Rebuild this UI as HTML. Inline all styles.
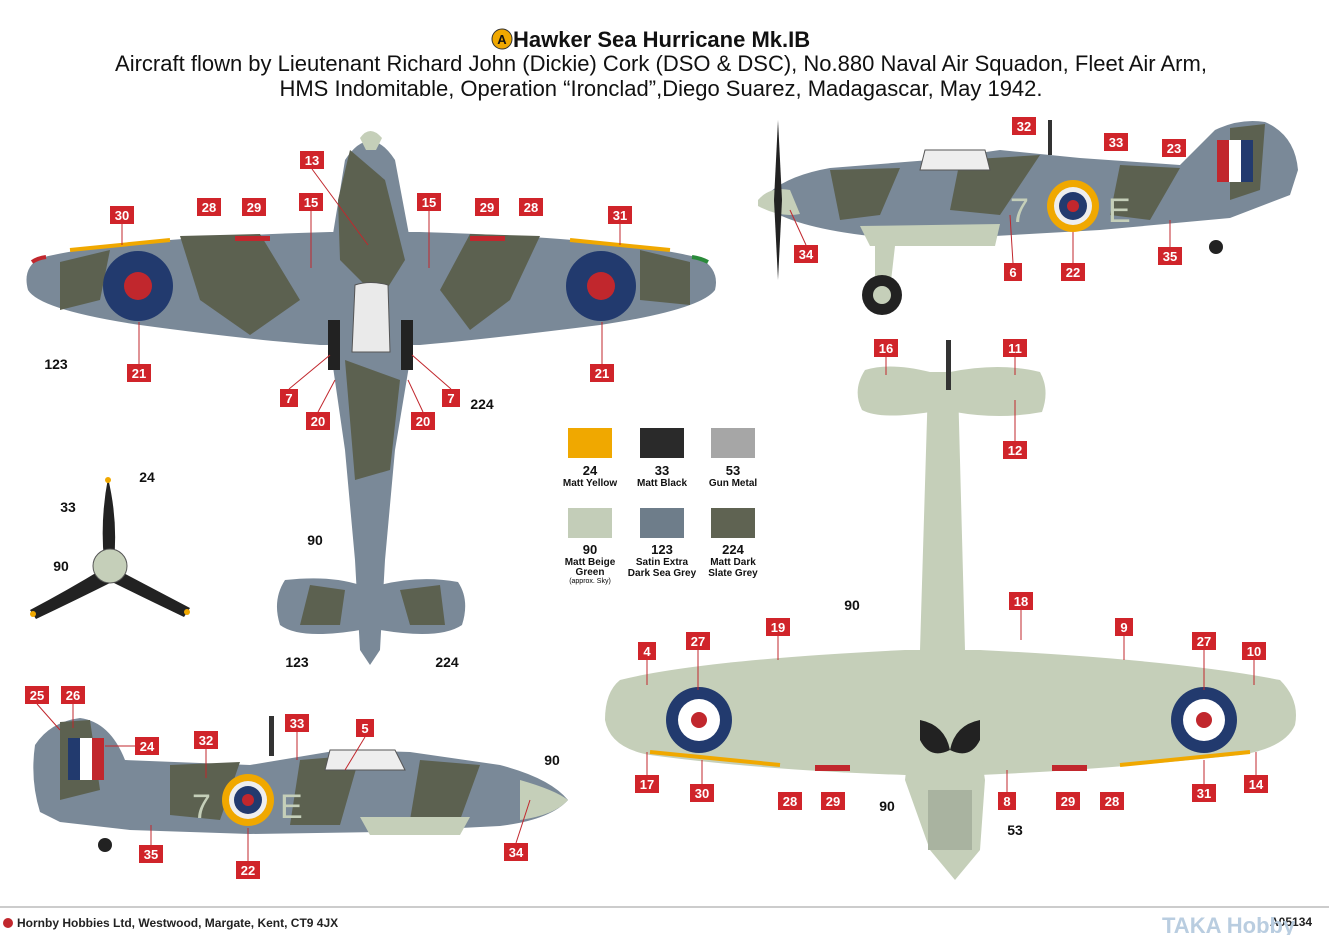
<!DOCTYPE html>
<html><head><meta charset="utf-8"><style>
html,body{margin:0;padding:0;background:#fff;width:1329px;height:935px;overflow:hidden}
svg{display:block}
text{font-family:"Liberation Sans",Arial,sans-serif}
.t{font-size:22px;fill:#111}
.r{fill:#d0242a}
.rl{font-size:13px;font-weight:bold;fill:#fff;text-anchor:middle}
.bl{font-size:14px;font-weight:bold;fill:#111;text-anchor:middle}
.sw{font-size:13px;font-weight:bold;fill:#111;text-anchor:middle}
.ss{font-size:10px;font-weight:bold;fill:#111;text-anchor:middle}
.g{fill:#7a8998}.d{fill:#5c6150}.u{fill:#c5cfb9}
.ll{stroke:#c1272d;stroke-width:1;fill:none}
</style></head><body>
<svg width="1329" height="935" viewBox="0 0 1329 935" xmlns="http://www.w3.org/2000/svg">
<circle cx="502" cy="39" r="10" fill="#f0a800" stroke="#333" stroke-width="1"/>
<text x="502" y="44" font-size="13" font-weight="bold" text-anchor="middle" fill="#111">A</text>
<text x="513" y="47" font-size="22" font-weight="bold" fill="#111">Hawker Sea Hurricane Mk.IB</text>
<text x="661" y="71" class="t" text-anchor="middle">Aircraft flown by Lieutenant Richard John (Dickie) Cork (DSO &amp; DSC), No.880 Naval Air Squadon, Fleet Air Arm,</text>
<text x="661" y="96" class="t" text-anchor="middle">HMS Indomitable, Operation “Ironclad”,Diego Suarez, Madagascar, May 1942.</text>

<!-- TOP VIEW -->
<g>
<path class="g" d="M40,258 Q120,238 330,232 L420,232 Q620,238 700,258 Q720,270 715,290 Q700,310 600,325 Q480,340 420,345 L320,345 Q250,340 140,325 Q40,310 28,290 Q22,268 40,258Z"/>
<path class="d" d="M180,236 L260,234 L300,300 L250,335 L200,300Z M470,234 L540,236 L510,300 L470,330 L440,290Z M60,262 L110,250 L100,300 L60,310Z M640,250 L690,262 L690,305 L640,300Z"/>
<path class="g" d="M345,160 Q370,122 395,160 L410,240 L410,360 L395,450 L385,560 L380,650 L370,665 L360,650 L355,560 L345,450 L332,360 L332,240Z"/>
<path class="d" d="M350,150 L385,180 L405,260 L380,300 L340,260 L338,200Z M345,360 L400,380 L390,470 L355,480Z"/>
<path class="u" d="M360,138 Q370,124 382,138 L376,150 L366,150Z"/>
<path class="g" d="M285,580 Q330,575 360,585 L380,585 Q420,575 458,582 Q470,600 462,625 Q440,640 380,630 L360,630 Q300,640 280,625 Q272,600 285,580Z"/>
<path class="d" d="M310,585 L345,590 L340,625 L300,625Z M400,590 L440,585 L445,625 L410,625Z"/>
<path d="M355,285 Q370,280 388,285 L390,352 L352,352Z" fill="#eaeaea" stroke="#555"/>
<rect x="328" y="320" width="12" height="50" fill="#222"/><rect x="401" y="320" width="12" height="50" fill="#222"/>
<circle cx="138" cy="286" r="35" fill="#223a6e"/><circle cx="138" cy="286" r="14" fill="#c1272d"/>
<circle cx="601" cy="286" r="35" fill="#223a6e"/><circle cx="601" cy="286" r="14" fill="#c1272d"/>
<path d="M70,250 L170,240" stroke="#f0a800" stroke-width="4"/><path d="M570,240 L670,250" stroke="#f0a800" stroke-width="4"/>
<rect x="235" y="236" width="35" height="5" fill="#c1272d"/><rect x="470" y="236" width="35" height="5" fill="#c1272d"/>
<path d="M32,262 Q38,258 46,257" stroke="#c1272d" stroke-width="4"/><path d="M692,257 Q700,258 708,262" stroke="#2a8a3a" stroke-width="4"/>
</g>

<!-- PROPELLER -->
<g>
<path d="M108,478 Q118,520 114,560 L104,560 Q100,520 108,478Z" fill="#222"/>
<path d="M114,568 Q152,588 190,608 L184,617 Q144,598 108,580Z" fill="#222"/>
<path d="M104,568 Q68,590 30,610 L36,619 Q76,600 112,582Z" fill="#222"/>
<circle cx="110" cy="566" r="17" fill="#c5cfb9" stroke="#555"/>
<circle cx="108" cy="480" r="3" fill="#f0a800"/><circle cx="187" cy="612" r="3" fill="#f0a800"/><circle cx="33" cy="614" r="3" fill="#f0a800"/>
</g>

<!-- SIDE VIEW top right -->
<g>
<path class="g" d="M770,192 Q790,175 830,168 L930,160 L1000,150 L1080,158 L1180,165 L1215,130 Q1240,118 1265,122 Q1295,135 1298,170 L1290,195 L1230,218 L1100,230 L960,238 L870,236 Q800,228 770,210Z"/>
<path class="d" d="M830,170 L900,168 L880,215 L840,220Z M960,160 L1040,155 L1000,215 L950,210Z M1120,165 L1180,168 L1150,220 L1110,215Z M1230,128 L1265,124 L1260,190 L1230,200Z"/>
<path d="M758,200 Q770,186 790,190 L800,214 Q780,218 758,206Z" fill="#c5cfb9"/>
<path d="M925,150 L985,150 L990,170 L920,170Z" fill="#eee" stroke="#555"/>
<path d="M860,226 L1000,224 L995,246 L870,246Z" fill="#c5cfb9"/>
<path d="M875,246 L895,246 L890,290 L875,290Z" fill="#c5cfb9"/>
<circle cx="882" cy="295" r="20" fill="#222"/><circle cx="882" cy="295" r="9" fill="#c5cfb9"/>
<circle cx="1216" cy="247" r="7" fill="#222"/>
<path d="M778,120 L782,200 L778,280 L774,200Z" fill="#222"/>
<circle cx="1073" cy="206" r="26" fill="#f0a800"/><circle cx="1073" cy="206" r="19" fill="#eee"/><circle cx="1073" cy="206" r="14" fill="#223a6e"/><circle cx="1073" cy="206" r="6" fill="#c1272d"/>
<text x="1010" y="222" font-size="34" fill="#c5cfb9">7</text><text x="1108" y="222" font-size="34" fill="#c5cfb9">E</text>
<rect x="1217" y="140" width="12" height="42" fill="#c1272d"/><rect x="1229" y="140" width="12" height="42" fill="#fff"/><rect x="1241" y="140" width="12" height="42" fill="#223a6e"/>
<rect x="1048" y="120" width="4" height="35" fill="#333"/>
</g>

<!-- SIDE VIEW bottom left -->
<g>
<path class="g" d="M35,745 Q50,722 80,718 Q110,722 125,760 L250,765 L340,750 L410,752 L500,765 Q550,778 568,800 Q550,820 500,826 L380,832 L250,834 L130,830 L60,822 L40,812 Q30,780 35,745Z"/>
<path class="d" d="M60,722 L90,720 L100,790 L60,800Z M170,765 L240,762 L220,820 L170,815Z M300,760 L360,755 L340,825 L290,825Z M420,760 L480,765 L460,820 L410,820Z"/>
<path d="M330,750 L395,750 L405,770 L325,770Z" fill="#eee" stroke="#555"/>
<path d="M520,780 Q555,790 568,800 Q555,815 520,820Z" fill="#c5cfb9"/>
<path d="M360,817 L470,817 L460,835 L370,835Z" fill="#c5cfb9"/>
<circle cx="105" cy="845" r="7" fill="#222"/>
<rect x="269" y="716" width="5" height="40" fill="#333"/>
<circle cx="248" cy="800" r="26" fill="#f0a800"/><circle cx="248" cy="800" r="19" fill="#eee"/><circle cx="248" cy="800" r="14" fill="#223a6e"/><circle cx="248" cy="800" r="6" fill="#c1272d"/>
<text x="192" y="818" font-size="34" fill="#c5cfb9">7</text><text x="280" y="818" font-size="34" fill="#c5cfb9">E</text>
<rect x="68" y="738" width="12" height="42" fill="#223a6e"/><rect x="80" y="738" width="12" height="42" fill="#fff"/><rect x="92" y="738" width="12" height="42" fill="#c1272d"/>
</g>

<!-- BOTTOM VIEW -->
<g>
<path class="u" d="M620,680 Q700,660 905,650 L980,650 Q1180,660 1280,680 Q1300,700 1295,725 Q1285,748 1240,755 Q1100,770 980,775 L905,775 Q760,770 650,755 Q610,748 605,720 Q605,692 620,680Z"/>
<path class="u" d="M928,385 L958,385 L965,650 L985,780 L980,850 L955,880 L930,850 L905,780 L920,650Z"/>
<path class="u" d="M865,370 Q890,362 930,372 L950,372 Q1000,362 1040,372 Q1050,390 1042,412 Q1000,420 955,412 L930,412 Q880,420 862,410 Q852,390 865,370Z"/>
<rect x="946" y="340" width="5" height="50" fill="#333"/>
<path d="M920,720 Q945,725 950,750 Q930,760 920,740Z M980,720 Q955,725 950,750 Q970,760 980,740Z" fill="#222"/>
<rect x="928" y="790" width="44" height="60" fill="#a9b3a0"/>
<circle cx="699" cy="720" r="33" fill="#223a6e"/><circle cx="699" cy="720" r="21" fill="#fff"/><circle cx="699" cy="720" r="8" fill="#c1272d"/>
<circle cx="1204" cy="720" r="33" fill="#223a6e"/><circle cx="1204" cy="720" r="21" fill="#fff"/><circle cx="1204" cy="720" r="8" fill="#c1272d"/>
<path d="M650,752 L780,765" stroke="#f0a800" stroke-width="4"/><path d="M1120,765 L1250,752" stroke="#f0a800" stroke-width="4"/>
<rect x="815" y="765" width="35" height="6" fill="#c1272d"/><rect x="1052" y="765" width="35" height="6" fill="#c1272d"/>
</g>

<!-- SWATCHES -->
<rect x="568" y="428" width="44" height="30" fill="#f0a800"/>
<rect x="640" y="428" width="44" height="30" fill="#2a2a2a"/>
<rect x="711" y="428" width="44" height="30" fill="#a6a6a6"/>
<rect x="568" y="508" width="44" height="30" fill="#c3cdb8"/>
<rect x="640" y="508" width="44" height="30" fill="#6e7d8a"/>
<rect x="711" y="508" width="44" height="30" fill="#5f6352"/>
<text x="590" y="475" class="sw">24</text><text x="590" y="486" class="ss">Matt Yellow</text>
<text x="662" y="475" class="sw">33</text><text x="662" y="486" class="ss">Matt Black</text>
<text x="733" y="475" class="sw">53</text><text x="733" y="486" class="ss">Gun Metal</text>
<text x="590" y="554" class="sw">90</text><text x="590" y="565" class="ss">Matt Beige</text><text x="590" y="575" class="ss">Green</text><text x="590" y="583" font-size="7" text-anchor="middle">(approx. Sky)</text>
<text x="662" y="554" class="sw">123</text><text x="662" y="565" class="ss">Satin Extra</text><text x="662" y="576" class="ss">Dark Sea Grey</text>
<text x="733" y="554" class="sw">224</text><text x="733" y="565" class="ss">Matt Dark</text><text x="733" y="576" class="ss">Slate Grey</text>

<!-- leader lines -->
<g class="ll">
<path d="M312,169 L368,245"/><path d="M311,211 L311,268"/><path d="M429,211 L429,268"/>
<path d="M122,224 L122,245"/><path d="M620,224 L620,245"/><path d="M139,364 L139,322"/><path d="M602,364 L602,322"/>
<path d="M289,389 L330,355"/><path d="M318,412 L335,380"/><path d="M423,412 L408,380"/><path d="M451,389 L412,355"/>
<path d="M806,245 L790,210"/><path d="M1013,263 L1010,215"/><path d="M1073,263 L1073,232"/><path d="M1170,247 L1170,220"/>
<path d="M886,357 L886,375"/><path d="M1015,357 L1015,375"/><path d="M1015,441 L1015,400"/>
<path d="M1021,610 L1021,640"/><path d="M778,636 L778,660"/><path d="M1124,636 L1124,660"/>
<path d="M647,660 L647,685"/><path d="M698,650 L698,690"/><path d="M1204,650 L1204,690"/><path d="M1254,660 L1254,685"/>
<path d="M647,775 L647,752"/><path d="M702,784 L702,760"/><path d="M1204,784 L1204,760"/><path d="M1256,775 L1256,752"/>
<path d="M1007,792 L1007,770"/><path d="M516,843 L530,800"/><path d="M248,861 L248,828"/><path d="M151,845 L151,825"/>
<path d="M365,737 L345,770"/><path d="M297,732 L297,760"/><path d="M37,704 L60,730"/><path d="M73,704 L73,728"/><path d="M135,746 L105,746"/><path d="M206,749 L206,778"/>
</g>

<g>
<rect class="r" x="300" y="151" width="24" height="18"/><text class="rl" x="312" y="165">13</text>
<rect class="r" x="197" y="198" width="24" height="18"/><text class="rl" x="209" y="212">28</text>
<rect class="r" x="242" y="198" width="24" height="18"/><text class="rl" x="254" y="212">29</text>
<rect class="r" x="110" y="206" width="24" height="18"/><text class="rl" x="122" y="220">30</text>
<rect class="r" x="299" y="193" width="24" height="18"/><text class="rl" x="311" y="207">15</text>
<rect class="r" x="417" y="193" width="24" height="18"/><text class="rl" x="429" y="207">15</text>
<rect class="r" x="475" y="198" width="24" height="18"/><text class="rl" x="487" y="212">29</text>
<rect class="r" x="519" y="198" width="24" height="18"/><text class="rl" x="531" y="212">28</text>
<rect class="r" x="608" y="206" width="24" height="18"/><text class="rl" x="620" y="220">31</text>
<rect class="r" x="127" y="364" width="24" height="18"/><text class="rl" x="139" y="378">21</text>
<rect class="r" x="590" y="364" width="24" height="18"/><text class="rl" x="602" y="378">21</text>
<rect class="r" x="280" y="389" width="18" height="18"/><text class="rl" x="289" y="403">7</text>
<rect class="r" x="306" y="412" width="24" height="18"/><text class="rl" x="318" y="426">20</text>
<rect class="r" x="411" y="412" width="24" height="18"/><text class="rl" x="423" y="426">20</text>
<rect class="r" x="442" y="389" width="18" height="18"/><text class="rl" x="451" y="403">7</text>
<rect class="r" x="1012" y="117" width="24" height="18"/><text class="rl" x="1024" y="131">32</text>
<rect class="r" x="1104" y="133" width="24" height="18"/><text class="rl" x="1116" y="147">33</text>
<rect class="r" x="1162" y="139" width="24" height="18"/><text class="rl" x="1174" y="153">23</text>
<rect class="r" x="794" y="245" width="24" height="18"/><text class="rl" x="806" y="259">34</text>
<rect class="r" x="1004" y="263" width="18" height="18"/><text class="rl" x="1013" y="277">6</text>
<rect class="r" x="1061" y="263" width="24" height="18"/><text class="rl" x="1073" y="277">22</text>
<rect class="r" x="1158" y="247" width="24" height="18"/><text class="rl" x="1170" y="261">35</text>
<rect class="r" x="874" y="339" width="24" height="18"/><text class="rl" x="886" y="353">16</text>
<rect class="r" x="1003" y="339" width="24" height="18"/><text class="rl" x="1015" y="353">11</text>
<rect class="r" x="1003" y="441" width="24" height="18"/><text class="rl" x="1015" y="455">12</text>
<rect class="r" x="1009" y="592" width="24" height="18"/><text class="rl" x="1021" y="606">18</text>
<rect class="r" x="766" y="618" width="24" height="18"/><text class="rl" x="778" y="632">19</text>
<rect class="r" x="1115" y="618" width="18" height="18"/><text class="rl" x="1124" y="632">9</text>
<rect class="r" x="638" y="642" width="18" height="18"/><text class="rl" x="647" y="656">4</text>
<rect class="r" x="686" y="632" width="24" height="18"/><text class="rl" x="698" y="646">27</text>
<rect class="r" x="1192" y="632" width="24" height="18"/><text class="rl" x="1204" y="646">27</text>
<rect class="r" x="1242" y="642" width="24" height="18"/><text class="rl" x="1254" y="656">10</text>
<rect class="r" x="635" y="775" width="24" height="18"/><text class="rl" x="647" y="789">17</text>
<rect class="r" x="690" y="784" width="24" height="18"/><text class="rl" x="702" y="798">30</text>
<rect class="r" x="778" y="792" width="24" height="18"/><text class="rl" x="790" y="806">28</text>
<rect class="r" x="821" y="792" width="24" height="18"/><text class="rl" x="833" y="806">29</text>
<rect class="r" x="998" y="792" width="18" height="18"/><text class="rl" x="1007" y="806">8</text>
<rect class="r" x="1056" y="792" width="24" height="18"/><text class="rl" x="1068" y="806">29</text>
<rect class="r" x="1100" y="792" width="24" height="18"/><text class="rl" x="1112" y="806">28</text>
<rect class="r" x="1192" y="784" width="24" height="18"/><text class="rl" x="1204" y="798">31</text>
<rect class="r" x="1244" y="775" width="24" height="18"/><text class="rl" x="1256" y="789">14</text>
<rect class="r" x="25" y="686" width="24" height="18"/><text class="rl" x="37" y="700">25</text>
<rect class="r" x="61" y="686" width="24" height="18"/><text class="rl" x="73" y="700">26</text>
<rect class="r" x="135" y="737" width="24" height="18"/><text class="rl" x="147" y="751">24</text>
<rect class="r" x="194" y="731" width="24" height="18"/><text class="rl" x="206" y="745">32</text>
<rect class="r" x="285" y="714" width="24" height="18"/><text class="rl" x="297" y="728">33</text>
<rect class="r" x="356" y="719" width="18" height="18"/><text class="rl" x="365" y="733">5</text>
<rect class="r" x="139" y="845" width="24" height="18"/><text class="rl" x="151" y="859">35</text>
<rect class="r" x="236" y="861" width="24" height="18"/><text class="rl" x="248" y="875">22</text>
<rect class="r" x="504" y="843" width="24" height="18"/><text class="rl" x="516" y="857">34</text>
</g>
<text class="bl" x="56" y="369">123</text><text class="bl" x="482" y="409">224</text>
<text class="bl" x="315" y="545">90</text><text class="bl" x="297" y="667">123</text><text class="bl" x="447" y="667">224</text>
<text class="bl" x="147" y="482">24</text><text class="bl" x="68" y="512">33</text><text class="bl" x="61" y="571">90</text>
<text class="bl" x="852" y="610">90</text><text class="bl" x="887" y="811">90</text><text class="bl" x="1015" y="835">53</text>
<text class="bl" x="552" y="765">90</text>

<line x1="0" y1="907" x2="1329" y2="907" stroke="#999" stroke-width="1"/>
<circle cx="8" cy="923" r="5" fill="#c1272d"/>
<text x="17" y="927" font-size="12" font-weight="bold" fill="#222">Hornby Hobbies Ltd, Westwood, Margate, Kent, CT9 4JX</text>
<text x="1270" y="926" font-size="12" font-weight="bold" fill="#222">A05134</text>
<text x="1162" y="933" font-size="22" font-weight="bold" fill="#b9cde0">TAKA Hobby</text>
</svg>
</body></html>
